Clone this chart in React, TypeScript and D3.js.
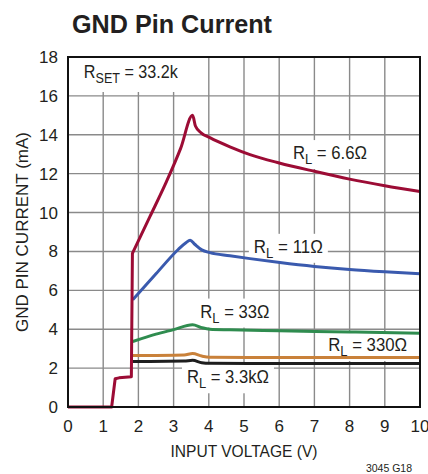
import React, { useEffect, useRef } from 'react';
import * as d3 from 'd3';

const xTicks = [0, 1, 2, 3, 4, 5, 6, 7, 8, 9, 10];
const yTicks = [0, 2, 4, 6, 8, 10, 12, 14, 16, 18];

// R_L = 6.6 ohm (also carries the common start-up step)
const redV = [0, 1.24, 1.34, 1.45, 1.8, 1.83, 2.33, 2.8, 3.2, 3.54, 3.62, 3.78, 4.03, 4.6, 5.17, 6.0, 7.0, 8.0, 9.0, 10];
const redI = [0, 0, 1.45, 1.5, 1.55, 7.9, 9.8, 11.6, 13.3, 15.0, 14.45, 14.1, 13.85, 13.38, 12.98, 12.55, 12.12, 11.72, 11.38, 11.08];
const redStepEnd = 5; // index where the start-up step ends and the smooth curve begins

// R_L = 11 ohm
const blueV = [1.84, 2.5, 3.13, 3.35, 3.47, 3.6, 3.8, 4.03, 4.6, 5.17, 6.02, 7.0, 8.0, 9.0, 10];
const blueI = [5.52, 6.85, 8.1, 8.45, 8.58, 8.37, 8.08, 7.94, 7.78, 7.63, 7.43, 7.23, 7.07, 6.95, 6.85];

// R_L = 33 ohm
const greenV = [1.84, 2.5, 3.0, 3.54, 3.8, 4.03, 4.6, 6.0, 8.0, 10];
const greenI = [3.37, 3.75, 3.98, 4.23, 4.08, 4.0, 3.97, 3.92, 3.86, 3.79];

// R_L = 330 ohm
const orangeV = [1.84, 3.3, 3.54, 3.8, 4.03, 6.0, 10];
const orangeI = [2.65, 2.68, 2.75, 2.62, 2.56, 2.55, 2.55];

// R_L = 3.3k ohm
const blackV = [1.84, 3.3, 3.54, 3.8, 4.03, 6.0, 10];
const blackI = [2.34, 2.36, 2.4, 2.28, 2.25, 2.24, 2.24];

const seriesColors = ['#1e1e1e', '#c9813a', '#2f8c4f', '#3a5aae', '#9c0c35'];
const seriesV = [blackV, orangeV, greenV, blueV, redV];
const seriesI = [blackI, orangeI, greenI, blueI, redI];
const seriesStep = [0, 0, 0, 0, redStepEnd];

// label anchors (text start, baseline) in data units
const labelNames = ['6.6Ω', '11Ω', '33Ω', '330Ω', '3.3kΩ'];
const labelV = [6.39, 5.28, 3.76, 7.39, 3.38];
const labelI = [12.75, 7.93, 4.6, 2.88, 1.22];
const labelWidths = [74, 69, 69, 79, 82];

const FONT = '"Liberation Sans", Arial, sans-serif';

export default function App() {
  const ref = useRef<SVGSVGElement | null>(null);

  useEffect(() => {
    const W = 428, H = 474;
    const svg = d3.select(ref.current);
    svg.selectAll('*').remove();

    const x = d3.scaleLinear().domain([0, 10]).range([68, 420]);
    const y = d3.scaleLinear().domain([0, 18]).range([407, 57]);

    svg.append('rect').attr('width', W).attr('height', H).attr('fill', '#fff');

    // title
    svg.append('text').attr('x', 72).attr('y', 33)
      .attr('font-family', FONT).attr('font-weight', 'bold').attr('font-size', 26)
      .attr('textLength', 200).attr('lengthAdjust', 'spacingAndGlyphs')
      .attr('fill', '#231f20').text('GND Pin Current');

    const grid = svg.append('g');
    xTicks.slice(1, -1).forEach(t => {
      grid.append('line').attr('x1', x(t)).attr('x2', x(t)).attr('y1', y(18)).attr('y2', y(0))
        .attr('stroke', '#8a8a8a').attr('stroke-width', 1.4);
    });
    yTicks.slice(1, -1).forEach(t => {
      grid.append('line').attr('x1', x(0)).attr('x2', x(10)).attr('y1', y(t)).attr('y2', y(t))
        .attr('stroke', '#8a8a8a').attr('stroke-width', 1.4);
    });

    const bgLayer = svg.append('g');
    const curveLayer = svg.append('g');
    const textLayer = svg.append('g');

    // tick labels
    xTicks.forEach(t => {
      svg.append('text').attr('x', x(t)).attr('y', 432).attr('text-anchor', 'middle')
        .attr('font-family', FONT).attr('font-size', 17).attr('fill', '#231f20').text(String(t));
    });
    yTicks.forEach(t => {
      svg.append('text').attr('x', 58).attr('y', y(t) + 6).attr('text-anchor', 'end')
        .attr('font-family', FONT).attr('font-size', 17).attr('fill', '#231f20').text(String(t));
    });

    svg.append('text').attr('x', (x(0) + x(10)) / 2).attr('y', 457).attr('text-anchor', 'middle')
      .attr('font-family', FONT).attr('font-size', 17).attr('fill', '#231f20')
      .attr('textLength', 147).attr('lengthAdjust', 'spacingAndGlyphs')
      .text('INPUT VOLTAGE (V)');
    svg.append('text').attr('transform', `translate(28, ${(y(0) + y(18)) / 2}) rotate(-90)`)
      .attr('text-anchor', 'middle')
      .attr('font-family', FONT).attr('font-size', 17).attr('fill', '#231f20')
      .attr('textLength', 200).attr('lengthAdjust', 'spacingAndGlyphs')
      .text('GND PIN CURRENT (mA)');

    svg.append('text').attr('x', 412).attr('y', 472).attr('text-anchor', 'end')
      .attr('font-family', FONT).attr('font-size', 10.5).attr('fill', '#231f20').text('3045 G18');

    // curves
    const smooth = d3.line<[number, number]>().x(d => x(d[0])).y(d => y(d[1])).curve(d3.curveMonotoneX);
    const straight = d3.line<[number, number]>().x(d => x(d[0])).y(d => y(d[1]));
    seriesV.forEach((vs, i) => {
      const pts: [number, number][] = vs.map((v, k) => [v, seriesI[i][k]]);
      const s = seriesStep[i];
      const d = s > 0
        ? (straight(pts.slice(0, s + 1)) as string) + (smooth(pts.slice(s)) as string).replace(/^M/, 'L')
        : (smooth(pts) as string);
      curveLayer.append('path').attr('d', d).attr('fill', 'none')
        .attr('stroke', seriesColors[i]).attr('stroke-width', 3)
        .attr('stroke-linejoin', 'round').attr('stroke-linecap', 'butt');
    });

    const makeLabel = (px: number, py: number, main: string, sub: string, rest: string, width: number, pad: [number, number, number, number]) => {
      const t = textLayer.append('text').attr('x', px).attr('y', py)
        .attr('font-family', FONT).attr('font-size', 18).attr('fill', '#231f20')
        .attr('textLength', width).attr('lengthAdjust', 'spacingAndGlyphs');
      t.append('tspan').text(main);
      t.append('tspan').attr('dy', 5).attr('font-size', 14).text(sub);
      t.append('tspan').attr('dy', -5).text(rest);
      const bb = (t.node() as SVGTextElement).getBBox();
      bgLayer.append('rect')
        .attr('x', bb.x - pad[0]).attr('y', bb.y - pad[1])
        .attr('width', bb.width + pad[0] + pad[2]).attr('height', bb.height + pad[1] + pad[3])
        .attr('fill', '#fff');
    };

    labelNames.forEach((n, i) => {
      makeLabel(x(labelV[i]), y(labelI[i]), 'R', 'L', ' = ' + n, labelWidths[i], [5, 3, 5, 2]);
    });
    makeLabel(x(0.45), 78, 'R', 'SET', ' = 33.2k', 94, [14, 20, 16, 6]);

    // frame
    svg.append('rect').attr('x', x(0)).attr('y', y(18)).attr('width', x(10) - x(0)).attr('height', y(0) - y(18))
      .attr('fill', 'none').attr('stroke', '#111').attr('stroke-width', 2);
  }, []);

  return (
    <svg ref={ref} width={428} height={474} style={{ position: 'absolute', left: 0, top: 0 }} />
  );
}
